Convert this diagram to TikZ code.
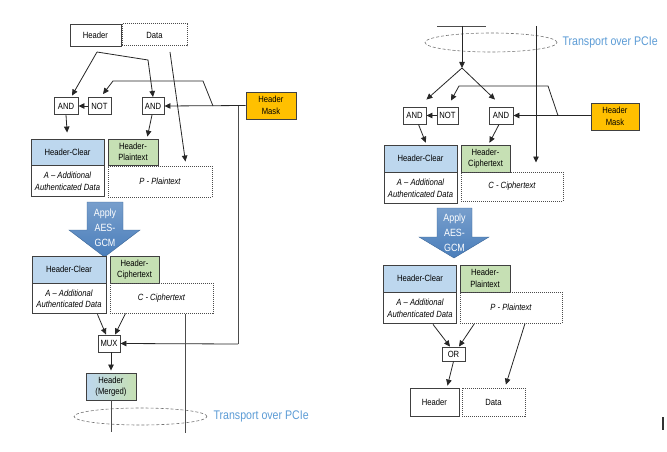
\documentclass[tikz,border=0pt]{standalone}
\usepackage{fontspec}
\setmainfont[FakeStretch=0.85]{Liberation Sans}
\usepackage{xcolor}
\usepackage{tikz}
\usetikzlibrary{arrows.meta, positioning, shapes.geometric, calc}
\definecolor{clearblue}{RGB}{189,215,238}
\definecolor{plaingreen}{RGB}{198,224,180}
\definecolor{maskorange}{RGB}{255,192,0}
\definecolor{aesblue}{RGB}{74,126,187}
\definecolor{pcieblue}{RGB}{91,155,213}
\newcommand{\hdrfont}{\fontsize{9}{11.5}\selectfont}
\tikzset{
  % Box styles
  hbox/.style={rectangle, draw=black!75, line width=0.9pt, fill=#1, align=center, inner sep=1pt, font=\hdrfont},
  hbox/.default={white},
  dbox/.style={rectangle, draw=black!70, densely dotted, line width=1pt, align=center, inner sep=1pt, font=\hdrfont},
  aadbox/.style={hbox, font=\hdrfont\itshape},
  gate/.style={hbox, minimum height=17pt, inner sep=0pt},
  % Connector styles
  arrow/.style={-{Triangle[length=6pt,width=5.5pt]}, black!85, line width=0.8pt},
  pipe/.style={black!70, line width=0.7pt},
  % Transport
  pcie/.style={ellipse, draw=black!55, densely dashed, line width=0.6pt, minimum width=133pt, minimum height=17pt, inner sep=0pt},
  pcietext/.style={text=pcieblue, font=\fontsize{12.5}{14}\selectfont, inner sep=0pt},
  aesarrow/.style={top color=aesblue!75, bottom color=aesblue, draw=aesblue!80!black, line width=0.4pt},
  aestext/.style={text=white, align=center, font=\fontsize{10.5}{15}\selectfont, inner sep=0pt},
}

\begin{document}
\begin{tikzpicture}[x=1pt, y=-1pt]
    \useasboundingbox (0,0) rectangle (667,452);

    %%% Left: transmit side
    \node[hbox, minimum width=51pt, minimum height=22pt] (hdrL) at (95.5,35) {Header};
    \node[dbox, minimum width=65pt, minimum height=22pt] (dataL) at (154.5,35) {Data};

    % Gates
    \node[gate, minimum width=24pt] (andLa) at (66,106) {AND};
    \node[gate, minimum width=23pt] (notL) at (99.5,106) {NOT};
    \node[gate, minimum width=22pt] (andLb) at (153,106) {AND};
    \node[hbox=maskorange, minimum width=50pt, minimum height=27pt] (maskL) at (271,105.5) {Header\\Mask};

    % AES-GCM inputs
    \node[hbox=clearblue, minimum width=73pt, minimum height=26pt] (clearL) at (67.5,152) {Header-Clear};
    \node[aadbox, minimum width=73pt, minimum height=31pt, below=0pt of clearL] (aadL) {A -- Additional\\Authenticated Data};
    \node[hbox=plaingreen, minimum width=50pt, minimum height=26pt] (plainL) at (133,152) {Header-\\Plaintext};
    \node[dbox, minimum width=104pt, minimum height=31pt, font=\hdrfont\itshape] (ptL) at (160,181.5) {P - Plaintext};

    % Apply AES-GCM
    \shade[aesarrow] (87,202) -- (123,202) -- (123,230) -- (140,230) -- (104.5,257) -- (69,230) -- (87,230) -- cycle;
    \node[aestext] (aesL) at (105,228) {Apply\\AES-\\GCM};

    % AES-GCM outputs
    \node[hbox=clearblue, minimum width=74pt, minimum height=27pt] (clearL2) at (69,269.5) {Header-Clear};
    \node[aadbox, minimum width=74pt, minimum height=30pt, below=0pt of clearL2] (aadL2) {A -- Additional\\Authenticated Data};
    \node[hbox=plaingreen, minimum width=49pt, minimum height=27pt] (cipherL) at (134.5,269.5) {Header-\\Ciphertext};
    \node[dbox, minimum width=103pt, minimum height=30pt, font=\hdrfont\itshape] (ctL) at (161.5,298) {C - Ciphertext};

    \node[gate, minimum width=22pt] (muxL) at (109,343.5) {MUX};
    \node[hbox, left color=clearblue, right color=plaingreen, minimum width=50pt, minimum height=27pt] (mergedL) at (111,386.5) {Header\\(Merged)};

    \node[pcie] (pcieL) at (140.5,416.5) {};
    \node[pcietext, right=6pt of pcieL] (pcieLtxt) {Transport over PCIe};

    % Left connectors
    \coordinate (splitL) at (97,52);
    \coordinate (dataLtail) at (170,52);
    \coordinate (maskLup) at (213,106);
    \coordinate (maskLdown) at (238,106);
    \draw[arrow] (splitL) -- ([xshift=6pt,yshift=1.5pt]andLa.north);
    \draw[arrow] (splitL) -- (148,60) -- (andLb.north);
    \draw[arrow, shorten >=4pt] (dataLtail) -- ([xshift=26pt]ptL.north);
    \draw[arrow] (notL) -- (andLa);
    \draw[arrow] (maskL.west) -- (andLb.east);
    \draw[arrow] (maskLup) -- (203,81) -- (113,81) -- ([xshift=3.5pt,yshift=3pt]notL.north);
    \draw[pipe] (maskLdown) -- (238,344);
    \draw[arrow] (238,344) -- (muxL.east);
    \draw[arrow, shorten >=6pt] (andLa.south) -- (clearL.north);
    \draw[arrow, shorten >=2pt] ([xshift=-1pt]andLb.south) -- ([xshift=14pt]plainL.north);
    \draw[arrow] ([xshift=-9pt]aadL2.south east) -- ([xshift=-3pt]muxL.north);
    \draw[arrow] ([xshift=16pt]ctL.south west) -- ([xshift=6pt]muxL.north);
    \draw[arrow, shorten >=2pt] (muxL.south -| mergedL.north) -- (mergedL.north);
    \draw[pipe] (mergedL.south) -- ++(0,32);
    \draw[pipe] ([xshift=23.5pt]ctL.south) -- ++(0,119);

    %%% Right: receive side
    \coordinate (topRl) at (437,26);
    \coordinate (topRr) at (486,26);
    \coordinate (inR) at (462,26);
    \coordinate (inR2) at (536,26);
    \coordinate (splitR) at (462,68);
    \draw[pipe] (topRl) -- (topRr);

    \node[pcie, minimum height=19pt, minimum width=132pt] (pcieR) at (491,42.5) {};
    \node[pcietext, right=5pt of pcieR] (pcieRtxt) {Transport over PCIe};

    % Gates
    \node[gate, minimum width=23pt] (andRa) at (414.5,115.5) {AND};
    \node[gate, minimum width=21pt] (notR) at (447.5,115.5) {NOT};
    \node[gate, minimum width=24pt] (andRb) at (501,115.5) {AND};
    \node[hbox=maskorange, minimum width=48pt, minimum height=27pt] (maskR) at (615,116.5) {Header\\Mask};

    % AES-GCM inputs
    \node[hbox=clearblue, minimum width=73pt, minimum height=27pt] (clearR) at (420.5,158.5) {Header-Clear};
    \node[aadbox, minimum width=73pt, minimum height=31pt, below=0pt of clearR] (aadR) {A -- Additional\\Authenticated Data};
    \node[hbox=plaingreen, minimum width=49pt, minimum height=27pt] (cipherR) at (485.5,158.5) {Header-\\Ciphertext};
    \node[dbox, minimum width=102pt, minimum height=29pt, font=\hdrfont\itshape] (ctR) at (512,186.5) {C - Ciphertext};

    % Apply AES-GCM
    \shade[aesarrow] (437,208) -- (472,208) -- (472,237) -- (489,237) -- (454,258) -- (419,237) -- (437,237) -- cycle;
    \node[aestext] (aesR) at (454.5,233) {Apply\\AES-\\GCM};

    % AES-GCM outputs
    \node[hbox=clearblue, minimum width=73pt, minimum height=27pt] (clearR2) at (420,278.5) {Header-Clear};
    \node[aadbox, minimum width=73pt, minimum height=31pt, below=0pt of clearR2] (aadR2) {A -- Additional\\Authenticated Data};
    \node[hbox=plaingreen, minimum width=50pt, minimum height=27pt] (plainR) at (485,278.5) {Header-\\Plaintext};
    \node[dbox, minimum width=102pt, minimum height=31pt, font=\hdrfont\itshape] (ptR) at (511,307.5) {P - Plaintext};

    \node[gate, minimum width=23pt, minimum height=14pt] (orR) at (453.5,354) {OR};
    \node[hbox, minimum width=49pt, minimum height=28pt] (hdrR) at (434.5,402) {Header};
    \node[dbox, minimum width=63pt, minimum height=28pt] (dataR) at (493.5,402) {Data};

    % Right connectors
    \coordinate (maskRup) at (558,115.5);
    \draw[arrow] (inR) -- (splitR);
    \draw[arrow] (splitR) -- ([yshift=7pt]andRa.north east);
    \draw[arrow] (splitR) -- ([xshift=-6pt,yshift=7pt]andRb.north);
    \draw[arrow, shorten >=9pt] (inR2) -- (ctR.north -| inR2);
    \draw[arrow] (notR) -- (andRa);
    \draw[arrow] (andRb.east -| maskR.west) -- (andRb.east);
    \draw[arrow] (maskRup) -- (548,86) -- (459,86) -- ([xshift=3.5pt,yshift=6pt]notR.north);
    \draw[arrow, shorten >=2pt] ([xshift=4pt]andRa.south) -- ([xshift=6pt]clearR.north);
    \draw[arrow, shorten >=2pt] ([xshift=-2pt]andRb.south) -- ([xshift=3pt]cipherR.north);
    \draw[arrow] ([xshift=-24pt]aadR2.south east) -- ([xshift=-3.5pt]orR.north);
    \draw[arrow] ([xshift=15pt]ptR.south west) -- ([xshift=5.5pt]orR.north);
    \draw[arrow, shorten >=2pt] (orR.south) -- ([xshift=12.5pt]hdrR.north);
    \draw[arrow, shorten >=3pt] ([xshift=14pt]ptR.south) -- ([xshift=11.5pt]dataR.north);

    % stray mark at the edge
    \draw[black!80, line width=1.2pt] (663,417) -- (663,430);
\end{tikzpicture}
\end{document}
